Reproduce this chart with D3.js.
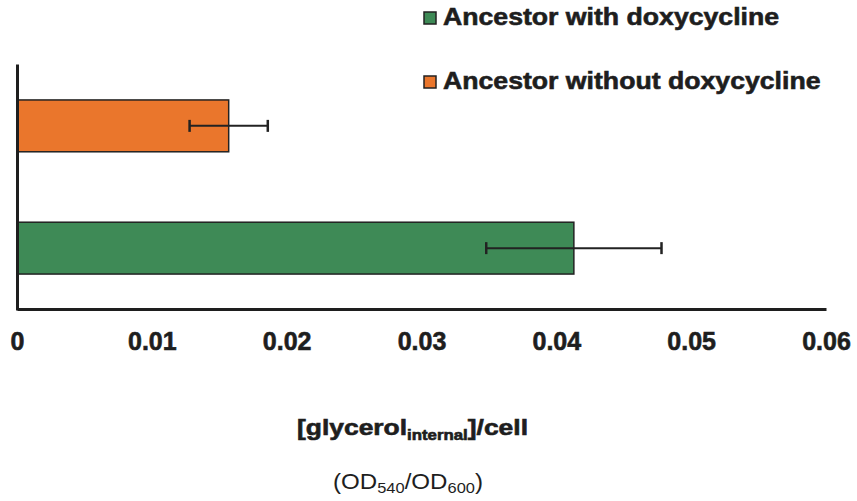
<!DOCTYPE html>
<html>
<head>
<meta charset="utf-8">
<script src="https://cdn.jsdelivr.net/npm/d3@7"></script>
<style>
    body { margin: 0; background: #fff; }
    text { font-family: "Liberation Sans", Arial, Helvetica, sans-serif; fill: #1e1e1e; }
    .heavy { stroke: #1e1e1e; stroke-width: 0.6px; }
</style>
</head>
<body>
<svg id="chart" width="857" height="501"></svg>
<script>
// categories top to bottom, as drawn
var categories = ["Ancestor without doxycycline", "Ancestor with doxycycline"];
var means = [0.0157, 0.0413];
var errs = [0.0029, 0.0065];
var legendItems = ["Ancestor with doxycycline", "Ancestor without doxycycline"];
var xTicks = [0, 0.01, 0.02, 0.03, 0.04, 0.05, 0.06];

var colors = {
    "Ancestor with doxycycline": "#3e8a56",
    "Ancestor without doxycycline": "#ea762c"
};

var svg = d3.select("#chart");

var x = d3.scaleLinear().domain([0, 0.06]).range([17, 826]);
var y = d3.scaleBand().domain(categories).range([64, 310])
    .paddingInner(0.576).paddingOuter(0.294);

var data = categories.map(function(c, i) {
    return {cat: c, mean: means[i], err: errs[i]};
});

// bars
svg.selectAll("rect.bar")
    .data(data)
    .enter().append("rect")
    .attr('class', 'bar')
    .attr('x', x(0))
    .attr('y', function(d) { return y(d.cat); })
    .attr('width', function(d) { return x(d.mean) - x(0); })
    .attr('height', y.bandwidth())
    .attr('fill', function(d) { return colors[d.cat]; })
    .attr('stroke', '#222')
    .attr('stroke-width', 1.5);

// error bars
var eb = svg.selectAll("g.err")
    .data(data)
    .enter().append("g")
    .attr('class', 'err')
    .attr('stroke', '#222')
    .attr('stroke-width', 2);

eb.append("line")
    .attr('x1', function(d) { return x(d.mean - d.err); })
    .attr('x2', function(d) { return x(d.mean + d.err); })
    .attr('y1', function(d) { return y(d.cat) + y.bandwidth() / 2; })
    .attr('y2', function(d) { return y(d.cat) + y.bandwidth() / 2; });

[-1, 1].forEach(function(s) {
    eb.append("line")
        .attr('x1', function(d) { return x(d.mean + s * d.err); })
        .attr('x2', function(d) { return x(d.mean + s * d.err); })
        .attr('y1', function(d) { return y(d.cat) + y.bandwidth() / 2 - 6; })
        .attr('y2', function(d) { return y(d.cat) + y.bandwidth() / 2 + 6; })
        .attr('stroke-width', 2.5);
});

// axes
var xAxis = svg.append("g")
    .attr('transform', 'translate(0,309)')
    .call(d3.axisBottom(x).tickValues(xTicks).tickSize(0).tickPadding(23)
        .tickFormat(function(d) { return d === 0 ? "0" : d3.format(".2f")(d); }));
xAxis.select(".domain").attr('stroke', '#1e1e1e').attr('stroke-width', 3);
xAxis.selectAll("text")
    .attr('class', 'heavy')
    .style('font-size', '25px')
    .style('font-weight', 'bold')
    .style('font-family', '"Liberation Sans", Arial, sans-serif')
    .attr('fill', '#1e1e1e');

var yAxis = svg.append("g")
    .attr('transform', 'translate(17,0)')
    .call(d3.axisLeft(y).tickSize(0).tickFormat(""));
yAxis.select(".domain").attr('stroke', '#1e1e1e').attr('stroke-width', 3);

// legend
var leg = svg.selectAll("g.legend")
    .data(legendItems)
    .enter().append("g")
    .attr('class', 'legend')
    .attr('transform', function(d, i) { return 'translate(424,' + (12 + i * 64) + ')'; });

leg.append("rect")
    .attr('width', 12)
    .attr('height', 12)
    .attr('fill', function(d) { return colors[d]; })
    .attr('stroke', '#222')
    .attr('stroke-width', 1.5);

leg.append("text")
    .attr('class', 'heavy')
    .attr('x', 19)
    .attr('y', 13)
    .style('font-size', '24px')
    .style('font-weight', 'bold')
    .text(function(d) { return d; })
    .each(function() {
        var w = this.getComputedTextLength();
        d3.select(this).attr('textLength', w * 1.11).attr('lengthAdjust', 'spacingAndGlyphs');
    });

// axis title
var t1 = svg.append("text")
    .attr('class', 'heavy')
    .attr('x', 297)
    .attr('y', 435)
    .style('font-size', '22px')
    .style('font-weight', 'bold');
t1.append("tspan").text("[glycerol");
t1.append("tspan").attr('dy', 5).style('font-size', '14px').text("internal");
t1.append("tspan").attr('dy', -5).text("]/cell");
t1.attr('textLength', 231).attr('lengthAdjust', 'spacingAndGlyphs');

var t2 = svg.append("text")
    .attr('x', 333)
    .attr('y', 489)
    .style('font-size', '22px');
t2.append("tspan").text("(OD");
t2.append("tspan").attr('dy', 4).style('font-size', '15px').text("540");
t2.append("tspan").attr('dy', -4).text("/OD");
t2.append("tspan").attr('dy', 4).style('font-size', '15px').text("600");
t2.append("tspan").attr('dy', -4).text(")");
t2.attr('textLength', 150).attr('lengthAdjust', 'spacingAndGlyphs');
</script>
</body>
</html>
